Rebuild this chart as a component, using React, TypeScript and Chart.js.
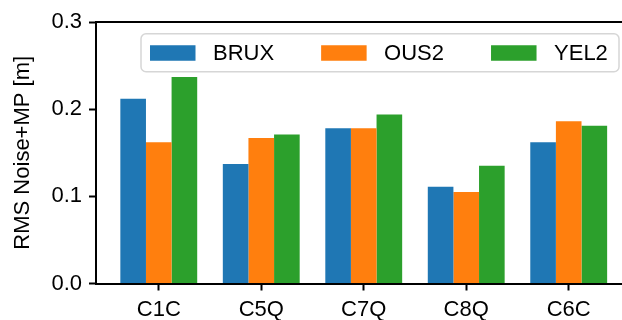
import React, { useEffect, useRef } from "react";
import { Chart, registerables } from "chart.js";

Chart.register(...registerables);

// Signal groups along the x axis
const categories = ["C1C", "C5Q", "C7Q", "C8Q", "C6C"];

// RMS of noise + multipath per station [m]
const bruxValues = [0.212, 0.137, 0.178, 0.111, 0.162];
const ous2Values = [0.162, 0.167, 0.178, 0.105, 0.186];
const yel2Values = [0.237, 0.171, 0.194, 0.135, 0.181];

const stationNames = ["BRUX", "OUS2", "YEL2"];
const stationColors = ["#1f77b4", "#ff7f0e", "#2ca02c"];

const yTicks = [0, 0.1, 0.2, 0.3];

const FONT = "'Liberation Sans', Arial, Helvetica, sans-serif";
const FONT_SIZE = 22;

// Top spine of the axes frame
const topSpine = {
  id: "topSpine",
  afterDraw(chart: any) {
    const { ctx, chartArea } = chart;
    ctx.save();
    ctx.strokeStyle = "#000";
    ctx.lineWidth = 2;
    ctx.beginPath();
    ctx.moveTo(chartArea.left - 1, chartArea.top);
    ctx.lineTo(chartArea.right, chartArea.top);
    ctx.stroke();
    ctx.restore();
  },
};

// Framed legend drawn inside the plot area, entries in one row
const innerLegend = {
  id: "innerLegend",
  afterDatasetsDraw(chart: any) {
    const { ctx, chartArea } = chart;
    const datasets = chart.data.datasets;
    const boxRight = chartArea.right - 3;
    const boxLeft = chartArea.left + 45;
    const boxTop = chartArea.top + 11.7;
    const boxBottom = chartArea.top + 49.7;
    const r = 5;

    ctx.save();
    ctx.beginPath();
    ctx.roundRect(boxLeft, boxTop, boxRight - boxLeft, boxBottom - boxTop, r);
    ctx.fillStyle = "rgba(255,255,255,0.8)";
    ctx.fill();
    ctx.lineWidth = 1.5;
    ctx.strokeStyle = "#d6d6d6";
    ctx.stroke();

    ctx.font = `${FONT_SIZE}px ${FONT}`;
    ctx.textBaseline = "middle";
    ctx.fillStyle = "#000";
    const midY = (boxTop + boxBottom) / 2;
    const swW = 45.5;
    const swH = 15.5;
    const textPad = 17.5;
    const colSpacing = 47;
    let x = boxLeft + 9;
    datasets.forEach((ds: any) => {
      ctx.fillStyle = ds.backgroundColor;
      ctx.fillRect(x, midY - swH / 2 + 0.3, swW, swH);
      x += swW + textPad;
      ctx.fillStyle = "#000";
      ctx.fillText(ds.label, x, midY + 1);
      x += ctx.measureText(ds.label).width + colSpacing;
    });
    ctx.restore();
  },
};

export default function App() {
  const canvasRef = useRef<HTMLCanvasElement | null>(null);

  useEffect(() => {
    const canvas = canvasRef.current;
    if (!canvas) return;

    const series = [bruxValues, ous2Values, yel2Values];
    const chart = new Chart(canvas, {
      type: "bar",
      data: {
        datasets: series.map((vals, s) => ({
          label: stationNames[s],
          data: vals.map((y, i) => ({ x: i, y })),
          backgroundColor: stationColors[s],
          borderWidth: 0,
          categoryPercentage: 0.75,
          barPercentage: 1.0,
        })),
      },
      options: {
        responsive: false,
        animation: false,
        devicePixelRatio: 1,
        layout: { padding: { top: 22, left: 0, right: 0, bottom: 0 } },
        plugins: {
          legend: { display: false },
          tooltip: { enabled: false },
        },
        scales: {
          x: {
            type: "linear",
            min: -0.6125,
            max: 4.52,
            offset: false,
            grid: {
              offset: false,
              drawOnChartArea: false,
              drawTicks: true,
              tickLength: 7,
              tickWidth: 2,
              tickColor: "#000",
            },
            border: { display: true, color: "#000", width: 2 },
            afterBuildTicks: (scale: any) => {
              scale.ticks = categories.map((_, i) => ({ value: i }));
            },
            afterFit: (scale: any) => {
              scale.height = 36.5;
            },
            ticks: {
              autoSkip: false,
              maxRotation: 0,
              color: "#000",
              padding: 6,
              font: { family: FONT, size: FONT_SIZE },
              callback: (v: any) => categories[v as number] ?? "",
            },
          },
          y: {
            min: 0,
            max: 0.3,
            grid: {
              drawOnChartArea: false,
              drawTicks: true,
              tickLength: 7,
              tickWidth: 2,
              tickColor: "#000",
            },
            border: { display: true, color: "#000", width: 2 },
            afterBuildTicks: (scale: any) => {
              scale.ticks = yTicks.map((v) => ({ value: v }));
            },
            afterFit: (scale: any) => {
              scale.width = 96;
            },
            ticks: {
              color: "#000",
              padding: 7,
              font: { family: FONT, size: FONT_SIZE },
              callback: (v: any) => Number(v).toFixed(1),
            },
            title: {
              display: true,
              text: "RMS Noise+MP [m]",
              color: "#000",
              padding: { top: 10, bottom: 0 },
              font: { family: FONT, size: FONT_SIZE },
            },
          },
        },
      },
      plugins: [innerLegend, topSpine],
    });

    return () => chart.destroy();
  }, []);

  return (
    <div
      style={{
        position: "fixed",
        left: 0,
        top: 0,
        width: 622,
        height: 320,
        background: "#fff",
        overflow: "hidden",
      }}
    >
      <canvas ref={canvasRef} width={622} height={320} style={{ display: "block" }} />
    </div>
  );
}
